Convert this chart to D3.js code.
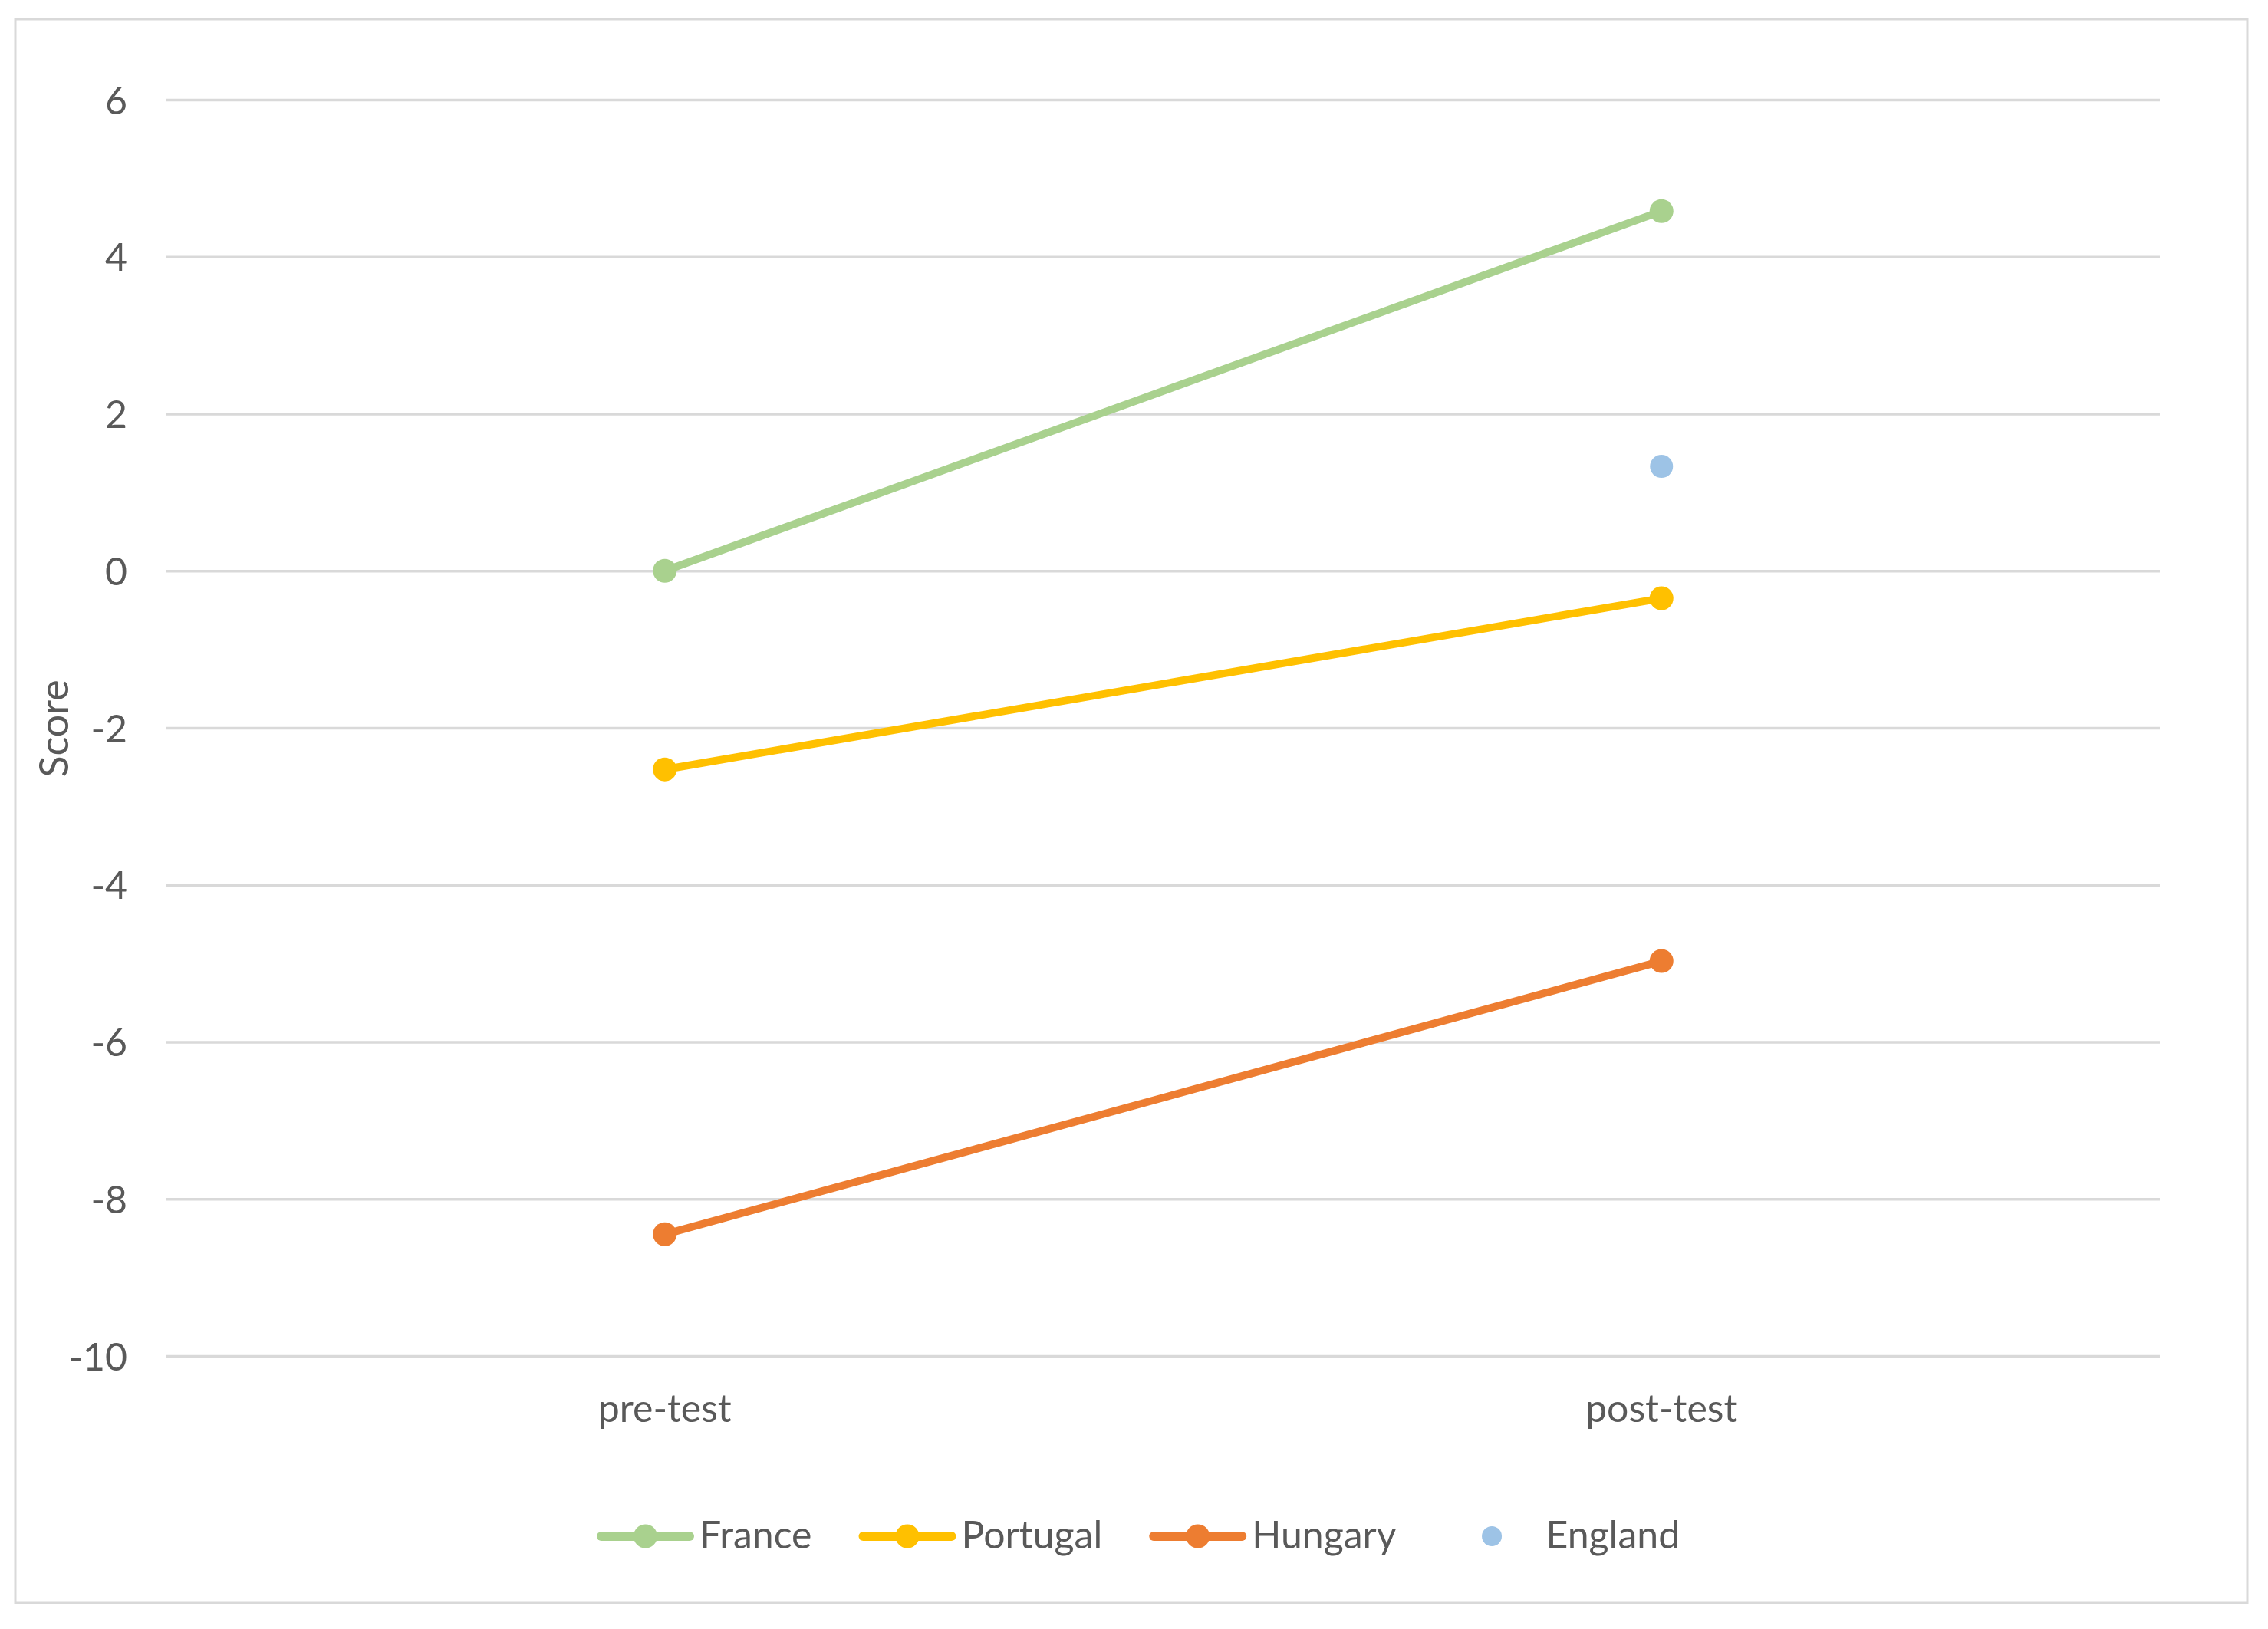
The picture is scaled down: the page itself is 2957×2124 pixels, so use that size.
<!DOCTYPE html>
<html>
<head>
<meta charset="utf-8">
<script src="https://cdn.jsdelivr.net/npm/d3@7"></script>
<style>
  html, body { margin: 0; padding: 0; background: #fff; }
  svg { display: block; }
</style>
</head>
<body>
<svg id="chart" width="2957" height="2124"></svg>
<script>
// ---- data ----
const categories = ["pre-test", "post-test"];
const seriesNames = ["France", "Portugal", "Hungary", "England"];
const franceValues = [0, 4.58];
const portugalValues = [-2.53, -0.35];
const hungaryValues = [-8.45, -4.97];
const englandValues = [null, 1.33];
const yTickValues = [-10, -8, -6, -4, -2, 0, 2, 4, 6];
const yTitle = "Score";

// ---- layout ----
const W = 2957, H = 2124;
const plot = { left: 217, right: 2816, top: 130, bottom: 1768 };
const textColor = "#595959";
const gridColor = "#d9d9d9";
const fontFamily = "Lato, 'Open Sans', sans-serif";
const fontSize = 50;

const series = [
  { name: seriesNames[0], values: franceValues, color: "#a9d18e", line: true },
  { name: seriesNames[1], values: portugalValues, color: "#ffc000", line: true },
  { name: seriesNames[2], values: hungaryValues, color: "#ed7d31", line: true },
  { name: seriesNames[3], values: englandValues, color: "#9dc3e6", line: false }
];

const svg = d3.select("#chart");

// outer border
svg.append("rect")
  .attr("x", 20).attr("y", 25)
  .attr("width", 2930 - 20).attr("height", 2090 - 25)
  .attr("fill", "#fff").attr("stroke", gridColor).attr("stroke-width", 3);

const x = d3.scaleBand().domain(categories).range([plot.left, plot.right]).padding(0);
const y = d3.scaleLinear().domain([-10, 6]).range([plot.bottom, plot.top]);
const cx = c => x(c) + x.bandwidth() / 2;

// y axis (gridlines + labels)
const yAxis = d3.axisLeft(y).tickValues(yTickValues)
  .tickSize(-(plot.right - plot.left)).tickPadding(51).tickFormat(d => String(d));
const gy = svg.append("g").attr("transform", `translate(${plot.left},0)`).call(yAxis);
gy.select(".domain").remove();
gy.selectAll(".tick line").attr("stroke", gridColor).attr("stroke-width", 3.5);
gy.selectAll(".tick text")
  .attr("fill", textColor).attr("font-family", fontFamily).attr("font-size", fontSize)
  .attr("dy", "0.36em");

// x axis labels
const xAxis = d3.axisBottom(x).tickSize(0).tickPadding(0);
const gx = svg.append("g").attr("transform", `translate(0,${plot.bottom})`).call(xAxis);
gx.select(".domain").remove();
gx.selectAll(".tick text")
  .attr("fill", textColor).attr("font-family", fontFamily).attr("font-size", fontSize)
  .attr("y", 86).attr("dy", 0);

// y title
svg.append("text")
  .attr("transform", `translate(89,950) rotate(-90)`)
  .attr("text-anchor", "middle")
  .attr("fill", textColor).attr("font-family", fontFamily).attr("font-size", fontSize + 2)
  .text(yTitle);

// lines & markers
const line = d3.line()
  .defined(d => d.v !== null)
  .x(d => cx(d.c)).y(d => y(d.v));

series.forEach(s => {
  const pts = categories.map((c, i) => ({ c, v: s.values[i] }));
  if (s.line) {
    svg.append("path").datum(pts)
      .attr("d", line).attr("fill", "none")
      .attr("stroke", s.color).attr("stroke-width", 10)
      .attr("stroke-linecap", "round");
  }
  svg.selectAll(null).data(pts.filter(p => p.v !== null)).enter()
    .append("circle")
    .attr("cx", p => cx(p.c)).attr("cy", p => y(p.v))
    .attr("r", s.line ? 15.5 : 15)
    .attr("fill", s.color);
});

// legend
const legendY = 2003;
const lineLen = 125;
const textGap = 8;
const itemGap = 62;
let lx = 779;
const legend = svg.append("g");
series.forEach(s => {
  const g = legend.append("g");
  if (s.line) {
    g.append("line")
      .attr("x1", lx + 5).attr("x2", lx + lineLen - 5)
      .attr("y1", legendY).attr("y2", legendY)
      .attr("stroke", s.color).attr("stroke-width", 12).attr("stroke-linecap", "round");
  }
  g.append("circle").attr("cx", lx + lineLen / 2).attr("cy", legendY)
    .attr("r", s.line ? 15.5 : 13).attr("fill", s.color);
  const t = g.append("text")
    .attr("x", lx + lineLen + textGap).attr("y", legendY + 16)
    .attr("fill", textColor).attr("font-family", fontFamily).attr("font-size", fontSize)
    .text(s.name);
  lx = lx + lineLen + textGap + t.node().getComputedTextLength() + itemGap;
});
</script>
</body>
</html>
